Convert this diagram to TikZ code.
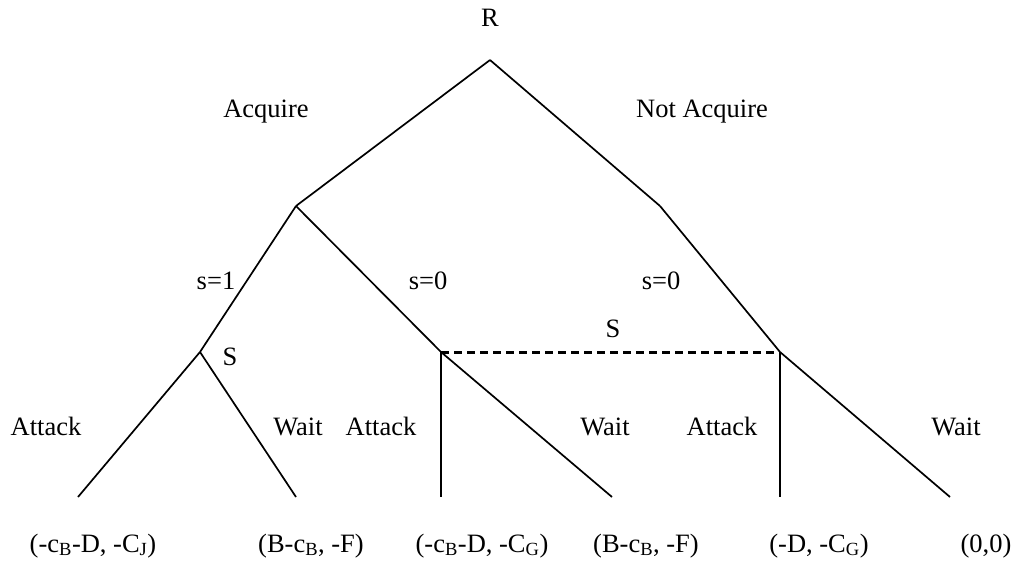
\documentclass[tikz,border=0pt]{standalone}
\usepackage{fontspec}
\setmainfont{Liberation Serif}
\begin{document}
\begin{tikzpicture}[x=1pt,y=-1pt,
  edge/.style={line width=1.7pt},
  info/.style={line width=3pt, dash pattern=on 8pt off 5pt},
  lbl/.style={inner sep=0pt, anchor=base, font=\fontsize{26.5}{30}\selectfont},
  pay/.style={inner sep=0pt, anchor=base, font=\fontsize{26.5}{30}\selectfont}]
\useasboundingbox (0,0) rectangle (1020,567);
% vertices
\coordinate (root) at (490,60);
\coordinate (acq) at (296,206);
\coordinate (nacq) at (660,206);
\coordinate (s1) at (200,352);
\coordinate (s0a) at (441,352);
\coordinate (s0b) at (780,352);
\coordinate (t1) at (78,497);
\coordinate (t2) at (296,497);
\coordinate (t3) at (441,497);
\coordinate (t4) at (612,497);
\coordinate (t5) at (780,497);
\coordinate (t6) at (950,497);
% edges
\draw[edge] (root) -- (acq);
\draw[edge] (root) -- (nacq);
\draw[edge] (acq) -- (s1);
\draw[edge] (acq) -- (s0a);
\draw[edge] (nacq) -- (s0b);
\draw[edge] (s1) -- (t1);
\draw[edge] (s1) -- (t2);
\draw[edge] (s0a) -- (t3);
\draw[edge] (s0a) -- (t4);
\draw[edge] (s0b) -- (t5);
\draw[edge] (s0b) -- (t6);
\draw[info] (s0a) -- (s0b);
% labels
\node[lbl] (lR) at (490,27) {R};
\node[lbl] (lacq) at (266,118) {Acquire};
\node[lbl] (lnacq) at (702,118) {Not Acquire};
\node[lbl] (ls1) at (216,289) {s=1};
\node[lbl] (ls0a) at (428,289) {s=0};
\node[lbl] (ls0b) at (661,289) {s=0};
\node[lbl] (lS1) at (230,365) {S};
\node[lbl] (lS2) at (613,337) {S};
\node[lbl] (la1) at (46,435) {Attack};
\node[lbl] (lw1) at (298,435) {Wait};
\node[lbl] (la2) at (381,435) {Attack};
\node[lbl] (lw2) at (605,435) {Wait};
\node[lbl] (la3) at (722,435) {Attack};
\node[lbl] (lw3) at (956,435) {Wait};
% payoffs
\node[pay] (p1) at (93,552) {(-c\textsubscript{B}-D, -C\textsubscript{J})};
\node[pay] (p2) at (311,552) {(B-c\textsubscript{B}, -F)};
\node[pay] (p3) at (482,552) {(-c\textsubscript{B}-D, -C\textsubscript{G})};
\node[pay] (p4) at (646,552) {(B-c\textsubscript{B}, -F)};
\node[pay] (p5) at (819,552) {(-D, -C\textsubscript{G})};
\node[pay] (p6) at (986,552) {(0,0)};
\end{tikzpicture}
\end{document}
